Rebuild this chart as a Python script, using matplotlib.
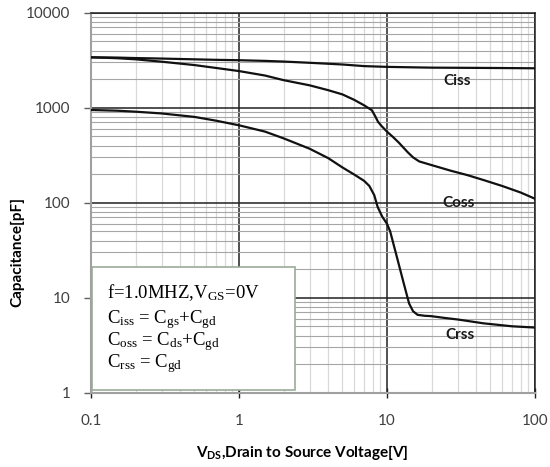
import matplotlib
matplotlib.use("Agg")
import matplotlib.pyplot as plt
from matplotlib.patches import Rectangle
from matplotlib.ticker import LogLocator, NullFormatter

# serif for the condition box, bold sans for the axis-title subscript
plt.rcParams['mathtext.fontset'] = 'custom'
plt.rcParams['mathtext.rm'] = 'Liberation Serif'
plt.rcParams['mathtext.it'] = 'Liberation Serif'
plt.rcParams['mathtext.sf'] = 'Lato:bold'

#################### data
ciss_v = [0.1, 0.15, 0.2, 0.3, 0.5, 0.7, 1, 1.5, 2, 3, 5, 7, 10, 15, 20, 50, 100]
ciss_c = [3390, 3370, 3330, 3290, 3230, 3190, 3160, 3110, 3060, 2970, 2850, 2740, 2690, 2660, 2640, 2620, 2600]

coss_v = [0.1, 0.15, 0.2, 0.3, 0.5, 0.7, 1, 1.5, 2, 3, 4, 5, 6, 7, 7.5, 7.9, 8.3, 8.7,
          9.2, 10, 11, 12, 13.8, 15, 16.5, 19.8, 27, 35, 45, 60, 80, 100]
coss_c = [3390, 3320, 3230, 3050, 2810, 2620, 2430, 2180, 1950, 1720, 1530, 1380, 1210, 1060, 990, 940, 820, 710,
          640, 560, 490, 430, 340, 300, 272, 250, 217, 195, 173, 150, 128, 110]

crss_v = [0.1, 0.15, 0.2, 0.3, 0.5, 0.7, 1, 1.5, 2, 3, 4, 5, 6, 7, 7.6, 8.2, 8.65, 9.3,
          10, 10.5, 11.8, 13, 14.1, 15, 16.1, 18, 19.8, 25, 30, 45, 70, 100]
crss_c = [946, 930, 908, 870, 800, 730, 653, 560, 476, 370, 295, 235, 198, 170, 150, 120, 90, 71,
          60, 50, 25, 14, 8.7, 7.2, 6.6, 6.45, 6.4, 6.1, 5.9, 5.37, 5.0, 4.85]

curve_labels = ['Ciss', 'Coss', 'Crss']
label_pos = [(30, 1920), (30.5, 99), (31, 4.05)]

#################### figure
fig = plt.figure(figsize=(5.5, 4.67), dpi=100)
ax = fig.add_axes([91/550, 1-392.7/467, 444/550, 380/467])
ax.set_xscale('log')
ax.set_yscale('log')
ax.set_xlim(0.1, 100)
ax.set_ylim(1, 10000)

# gridlines
ax.xaxis.set_minor_locator(LogLocator(base=10, subs=range(2, 10)))
ax.yaxis.set_minor_locator(LogLocator(base=10, subs=range(2, 10)))
ax.grid(True, which='major', color='#202020', lw=1.1, zorder=1)
ax.grid(True, which='minor', axis='x', color='#d9d9d9', lw=0.9, zorder=0)
ax.grid(True, which='minor', axis='y', color='#a6a6a6', lw=0.8, zorder=0)
ax.xaxis.set_minor_formatter(NullFormatter())
ax.yaxis.set_minor_formatter(NullFormatter())

ax.set_xticks([0.1, 1, 10, 100])
ax.set_xticklabels(['0.1', '1', '10', '100'])
ax.set_yticks([1, 10, 100, 1000, 10000])
ax.set_yticklabels(['1', '10', '100', '1000', '10000'])
ax.tick_params(axis='x', which='major', direction='inout', length=7, width=1, color='#202020',
               pad=12, labelsize=11, labelcolor='#404040')
ax.tick_params(axis='y', which='major', direction='out', length=5, width=1, color='#606060',
               pad=10, labelsize=11, labelcolor='#404040')
ax.tick_params(which='minor', length=0)
for lab in ax.get_xticklabels() + ax.get_yticklabels():
    lab.set_fontfamily('Lato')

for s in ['left', 'bottom']:
    ax.spines[s].set_color('#a0a0a0')
    ax.spines[s].set_linewidth(1.5)
for s in ['top', 'right']:
    ax.spines[s].set_color('#202020')
    ax.spines[s].set_linewidth(1.1)

#################### curves
for v, c in [(ciss_v, ciss_c), (coss_v, coss_c), (crss_v, crss_c)]:
    ax.plot(v, c, color='#111111', lw=1.6, zorder=3, solid_joinstyle='round')

for name, (x, y) in zip(curve_labels, label_pos):
    ax.text(x, y, name, fontfamily='Lato', fontweight='bold', fontsize=11, color='#1a1a1a',
            ha='center', va='center', zorder=4)

#################### condition box
ax.add_patch(Rectangle((0.003, 0.007), 0.456, 0.324, transform=ax.transAxes,
                       facecolor='white', edgecolor='#9aab9a', lw=1.2, zorder=5))
box_lines = [r'f=1.0MHZ,V$_{\rm GS}$=0V',
             r'C$_{\rm iss}$ = C$_{\rm gs}$+C$_{\rm gd}$',
             r'C$_{\rm oss}$ = C$_{\rm ds}$+C$_{\rm gd}$',
             r'C$_{\rm rss}$ = C$_{\rm gd}$']
for txt, yb in zip(box_lines, [0.248, 0.183, 0.126, 0.068]):
    ax.text(0.035, yb, txt, transform=ax.transAxes, fontfamily='Liberation Serif',
            fontsize=13.5, color='black', va='baseline', ha='left', zorder=6)

#################### axis titles
fig.text(302.5/550, 1-452/467, r'V$_{\mathsf{DS}}$,Drain to Source Voltage[V]',
         fontfamily='Lato', fontweight='bold', fontsize=11, ha='center', va='center')
fig.text(17.5/550, 1-252/467, 'Capacitance[pF]', fontfamily='Lato', fontweight='bold',
         fontsize=11, rotation=90, ha='center', va='center')

fig.savefig('out.png', dpi=100)
